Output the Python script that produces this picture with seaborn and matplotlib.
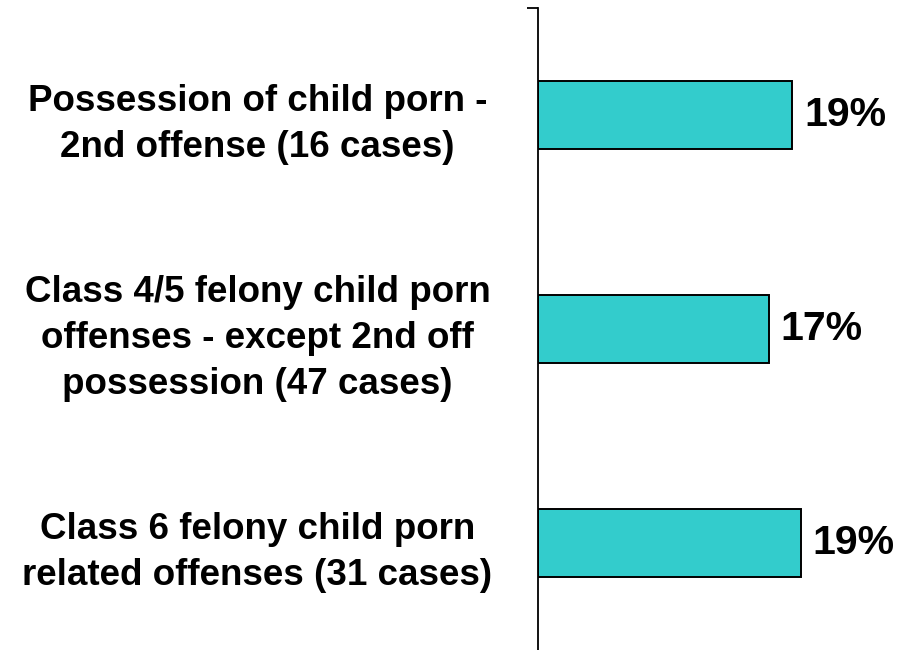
import matplotlib
matplotlib.use("Agg")
import matplotlib.pyplot as plt
import seaborn as sns
import pandas as pd

# ---- data ----
categories = [
    "Possession of child porn -\n2nd offense (16 cases)",
    "Class 4/5 felony child porn\noffenses - except 2nd off\npossession (47 cases)",
    "Class 6 felony child porn\nrelated offenses (31 cases)",
]
values = [18.75, 17.02, 19.35]   # percent
value_labels = [f"{v:.0f}%" for v in values]

sns.set_style("white")
plt.rcParams['font.family'] = ['Liberation Sans', 'DejaVu Sans']

df = pd.DataFrame({"category": categories, "value": values})

fig = plt.figure(figsize=(9.01, 6.5), dpi=100)
ax = fig.add_axes([538 / 901, 0.0, 339.3 / 901, 1 - 8 / 650])

sns.barplot(data=df, x="value", y="category", orient="h", color="#33CCCC",
            edgecolor="black", linewidth=1.4, width=0.32, saturation=1, ax=ax)

ax.set_xlim(0, 25)
ax.set_ylim(2.5, -0.5)

for s in ["top", "right", "bottom"]:
    ax.spines[s].set_visible(False)
ax.spines["left"].set_color("black")
ax.spines["left"].set_linewidth(1.3)

ax.set_xticks([])
ax.set_xlabel("")
ax.set_ylabel("")

ax.set_yticks(range(len(categories)))
ax.set_yticklabels(categories, fontsize=26.5, fontweight="bold", ha="center",
                   multialignment="center", linespacing=1.4, color="black")
ax.tick_params(axis="y", which="major", left=True, length=0, pad=202,
               labelcolor="black")
ax.set_yticks([-0.5], minor=True)
ax.tick_params(axis="y", which="minor", left=True, length=8, width=1.3,
               color="black", direction="out")

for container in ax.containers:
    ax.bar_label(container, labels=value_labels, padding=8.5, fontsize=29.5,
                 fontweight="bold", color="black")

fig.savefig("out.png", dpi=100)
